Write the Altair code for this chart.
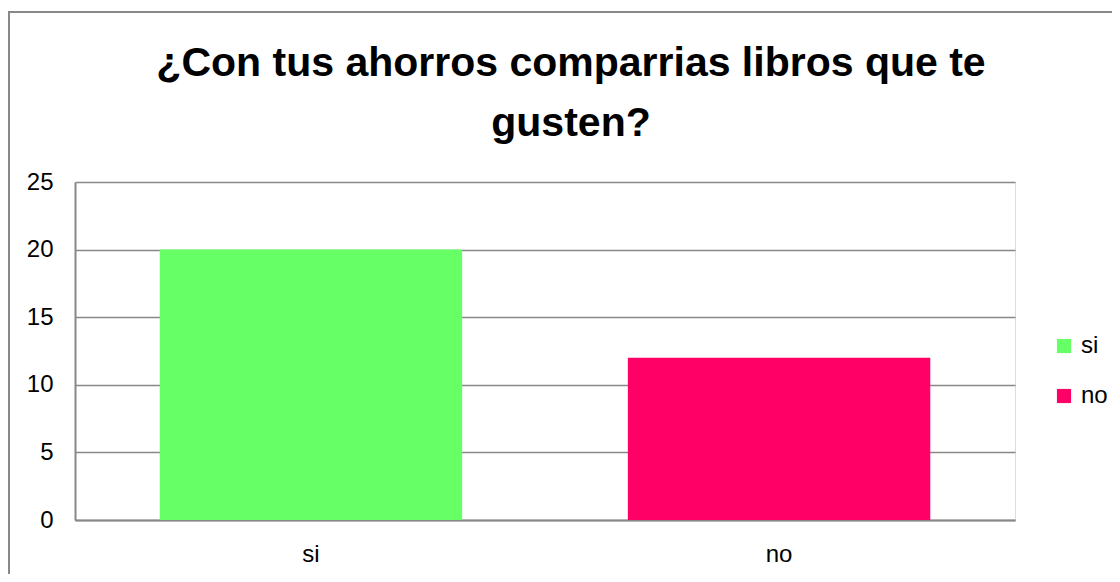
import altair as alt
import pandas as pd

categories = ["si", "no"]
values = [20, 12]
colors = ["#66FF66", "#FF0066"]
title_lines = ["¿Con tus ahorros comparrias libros que te", "gusten?"]
y_ticks = [0, 5, 10, 15, 20, 25]

df = pd.DataFrame({"respuesta": categories, "cantidad": values})

W, H = 940, 338
TITLE_FONT = "Liberation Sans Narrow, Arial Narrow, Liberation Sans"

bars = alt.Chart(df).mark_bar().encode(
    x=alt.X("respuesta:N", sort=categories,
            scale=alt.Scale(paddingInner=0.354, paddingOuter=0.181),
            axis=alt.Axis(title=None, labelAngle=0, labelFontSize=24, labelFont="Liberation Sans",
                          labelColor="#000000", labelPadding=22, ticks=False,
                          domainColor="#888888", domainWidth=2, grid=False)),
    y=alt.Y("cantidad:Q", scale=alt.Scale(domain=[0, 25]),
            axis=alt.Axis(title=None, values=y_ticks, labelFontSize=24, labelFont="Liberation Sans",
                          labelColor="#000000", labelPadding=22, ticks=False,
                          domainColor="#888888", domainWidth=2,
                          gridColor="#888888", gridWidth=1.5)),
    color=alt.Color("respuesta:N", sort=categories,
                    scale=alt.Scale(domain=categories, range=colors),
                    legend=alt.Legend(title=None, orient="none", legendX=977, legendY=152,
                                      symbolType="square", symbolSize=200, symbolStrokeWidth=0,
                                      labelFontSize=24, labelFont="Liberation Sans", labelColor="#000000",
                                      rowPadding=26, labelOffset=5)),
)

border = alt.Chart(pd.DataFrame({"a": [0]})).mark_rect(filled=False, stroke="#888888", strokeWidth=2).encode(
    x=alt.value(-66), x2=alt.value(1200), y=alt.value(-170), y2=alt.value(700)
)

title1 = alt.Chart(pd.DataFrame({"t": [title_lines[0]]})).mark_text(
    font=TITLE_FONT, fontSize=41, fontWeight="bold", color="#000000",
    align="center", baseline="alphabetic"
).encode(text="t:N", x=alt.value(496), y=alt.value(-106))

title2 = alt.Chart(pd.DataFrame({"t": [title_lines[1]]})).mark_text(
    font=TITLE_FONT, fontSize=41, fontWeight="bold", color="#000000",
    align="center", baseline="alphabetic"
).encode(text="t:N", x=alt.value(496), y=alt.value(-46))

chart = alt.layer(border, bars, title1, title2).properties(
    width=W, height=H,
    autosize=alt.AutoSizeParams(type="none"),
    padding={"left": 67, "top": 174, "right": 97, "bottom": 54},
).configure_view(stroke=None).configure(background="white")

chart.save("out.html", embed_options={"renderer": "svg", "actions": False})
